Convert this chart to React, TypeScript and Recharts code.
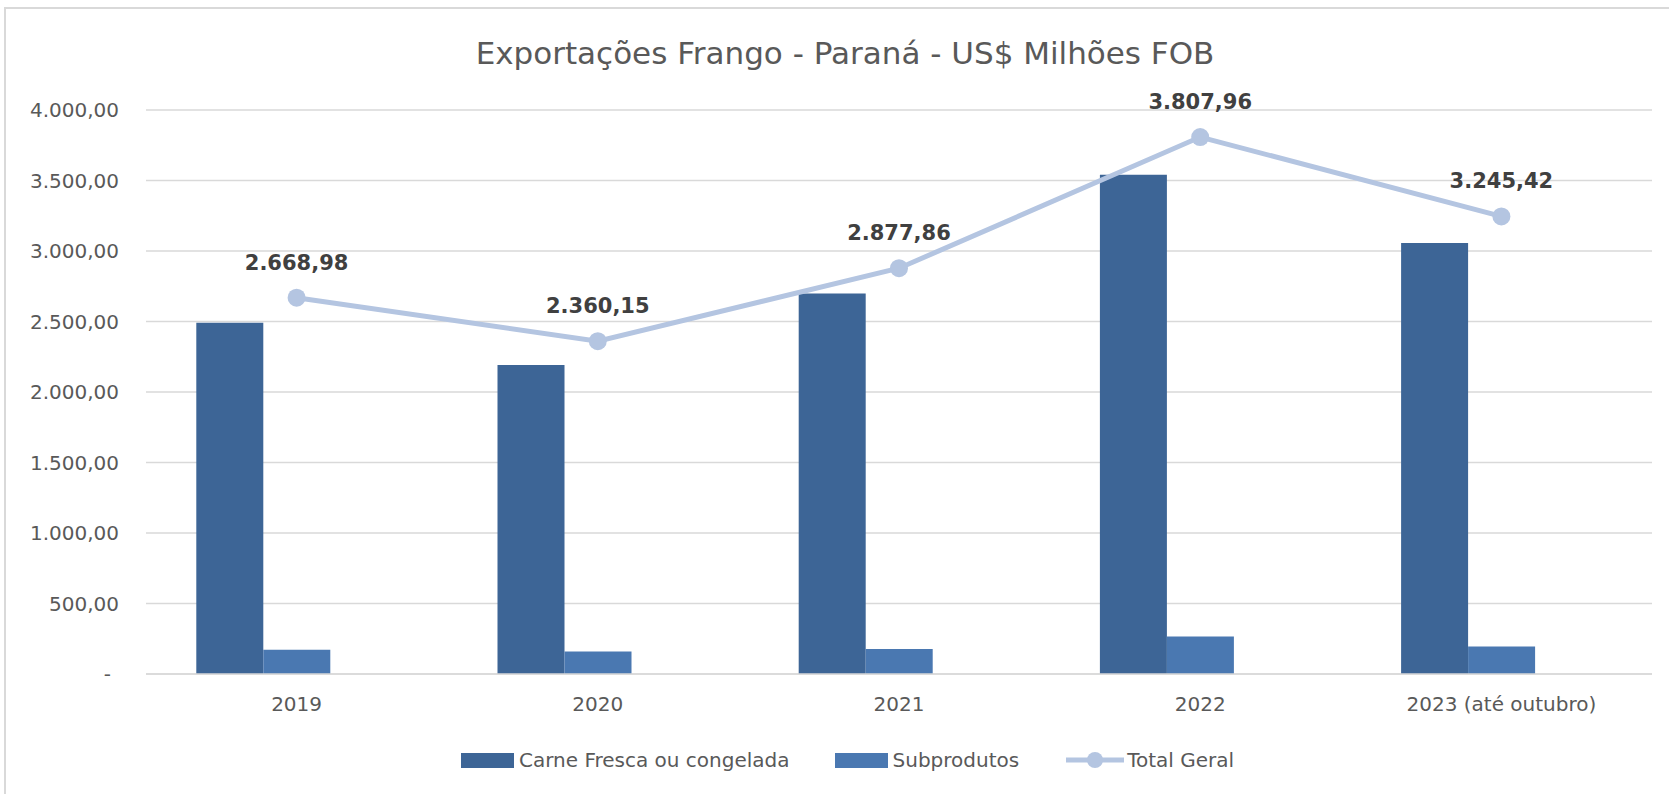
import React from 'react';
import { ComposedChart, Bar, Line, XAxis, YAxis, CartesianGrid, LabelList, Legend } from 'recharts';

const categories = ['2019', '2020', '2021', '2022', '2023 (até outubro)'];
const carneFresca = [2492, 2191, 2698, 3540, 3057];
const subprodutos = [172, 160, 177, 266, 195];
const totalGeral = [2668.98, 2360.15, 2877.86, 3807.96, 3245.42];
const yTicks = [0, 500, 1000, 1500, 2000, 2500, 3000, 3500, 4000];

const TITLE = 'Exportações Frango - Paraná - US$ Milhões FOB';
const FONT = '"DejaVu Sans", Verdana, sans-serif';
const C_DARK = '#3D6596';
const C_SUB = '#4A78B1';
const C_LINE = '#B4C5E1';
const C_GRID = '#D9D9D9';
const C_TEXT = '#595959';

const data = categories.map((name, i) => ({
  name,
  carne: carneFresca[i],
  sub: subprodutos[i],
  total: totalGeral[i],
  pad: null as number | null,
}));

function fmt(v: number): string {
  const fixed = v.toFixed(2);
  const [i, d] = fixed.split('.');
  return i.replace(/\B(?=(\d{3})+(?!\d))/g, '.') + ',' + d;
}

const YTick = (props: any) => {
  const { x, y, payload } = props;
  const v = payload.value as number;
  if (v === 0) {
    return (
      <text x={x - 8} y={y} dy="0.355em" textAnchor="end" fontFamily={FONT} fontSize={20} fill={C_TEXT}>
        -
      </text>
    );
  }
  return (
    <text x={x} y={y} dy="0.355em" textAnchor="end" fontFamily={FONT} fontSize={20} fill={C_TEXT}>
      {fmt(v)}
    </text>
  );
};

const XTick = (props: any) => {
  const { x, y, payload } = props;
  return (
    <text x={x} y={y + 37} textAnchor="middle" fontFamily={FONT} fontSize={20} fill={C_TEXT}>
      {payload.value}
    </text>
  );
};

const TotalLabel = (props: any) => {
  const vb = props.viewBox || {};
  const px = props.x ?? (vb.x + (vb.width || 0) / 2);
  const py = props.y ?? vb.y;
  return (
    <text x={px} y={py - 28} textAnchor="middle" fontFamily={FONT} fontWeight="bold" fontSize={21} fill="#404040">
      {fmt(Number(props.value))}
    </text>
  );
};

const LegendContent = () => (
  <div
    style={{
      display: 'flex',
      alignItems: 'center',
      height: 40,
      paddingLeft: 461,
      fontFamily: FONT,
      fontSize: 20,
      color: C_TEXT,
      whiteSpace: 'nowrap',
    }}
  >
    <div style={{ width: 53, height: 15, background: C_DARK, marginRight: 5 }} />
    <span style={{ marginRight: 45 }}>Carne Fresca ou congelada</span>
    <div style={{ width: 53, height: 15, background: C_SUB, marginRight: 5 }} />
    <span style={{ marginRight: 47 }}>Subprodutos</span>
    <svg width={58} height={20} style={{ marginRight: 3 }}>
      <line x1={0} y1={10} x2={58} y2={10} stroke={C_LINE} strokeWidth={5} />
      <circle cx={29} cy={10} r={8} fill={C_LINE} />
    </svg>
    <span>Total Geral</span>
  </div>
);

export default function App() {
  return (
    <div style={{ position: 'absolute', left: 0, top: 0, width: 1669, height: 794, overflow: 'hidden', background: '#fff' }}>
      <div
        style={{
          position: 'absolute',
          left: 4,
          top: 7,
          width: 2000,
          height: 2000,
          borderTop: `2px solid ${C_GRID}`,
          borderLeft: `2px solid ${C_GRID}`,
        }}
      />
      <svg width={1669} height={80} style={{ position: 'absolute', left: 0, top: 0 }}>
        <text x={845} y={64} textAnchor="middle" fontFamily={FONT} fontSize={31} fill={C_TEXT}>
          {TITLE}
        </text>
      </svg>
      <div style={{ position: 'absolute', left: 0, top: 0 }}>
        <ComposedChart
          width={1669}
          height={794}
          data={data}
          margin={{ top: 110, right: 17, bottom: 70, left: 26 }}
          barCategoryGap="16.7%"
          barGap={0}
          style={{ fontFamily: FONT }}
        >
          <CartesianGrid vertical={false} stroke={C_GRID} strokeWidth={1.5} />
          <XAxis
            dataKey="name"
            interval={0}
            height={50}
            tickLine={false}
            tickSize={0}
            tickMargin={0}
            axisLine={{ stroke: C_GRID, strokeWidth: 1.5 }}
            tick={<XTick />}
          />
          <YAxis
            domain={[0, 4000]}
            ticks={yTicks}
            width={120}
            axisLine={false}
            tickLine={false}
            tickSize={0}
            tickMargin={27}
            tick={<YTick />}
          />
          <Bar dataKey="carne" name="Carne Fresca ou congelada" fill={C_DARK} isAnimationActive={false} />
          <Bar dataKey="sub" name="Subprodutos" fill={C_SUB} isAnimationActive={false} />
          <Bar dataKey="pad" fill="none" legendType="none" isAnimationActive={false} />
          <Line
            dataKey="total"
            name="Total Geral"
            stroke={C_LINE}
            strokeWidth={5}
            dot={{ r: 9, fill: C_LINE, stroke: 'none' }}
            activeDot={false}
            isAnimationActive={false}
          >
            <LabelList dataKey="total" content={<TotalLabel />} />
          </Line>
          <Legend
            layout="horizontal"
            verticalAlign="middle"
            align="center"
            wrapperStyle={{ top: 740, left: 0, width: 1669, height: 40 }}
            content={<LegendContent />}
          />
        </ComposedChart>
      </div>
    </div>
  );
}
